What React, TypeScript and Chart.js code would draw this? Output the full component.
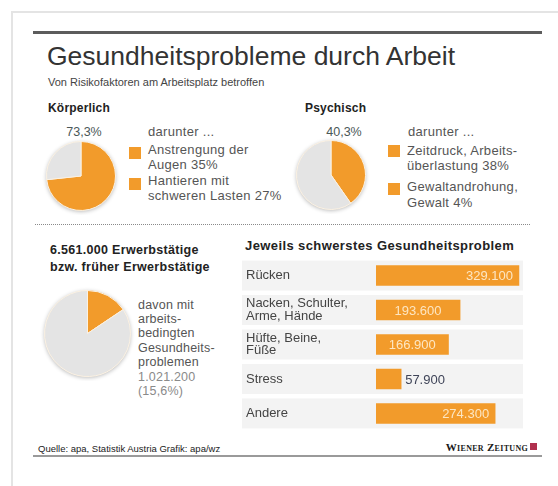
import React, { useEffect, useRef } from 'react';
import { Chart, registerables } from 'chart.js';

Chart.register(...registerables);

// ---------- data ----------
const koerperlichShares = [73.3, 26.7];
const psychischShares = [40.3, 59.7];
const erwerbsShares = [15.6, 84.4];

const barCategories = [
  ['Rücken'],
  ['Nacken, Schulter,', 'Arme, Hände'],
  ['Hüfte, Beine,', 'Füße'],
  ['Stress'],
  ['Andere'],
];
const barValues = [329100, 193600, 166900, 57900, 274300];

// ---------- styles ----------
const ORANGE = '#F29B2B';
const GRAY = '#E4E4E4';
const FONT = '"Liberation Sans", Arial, Helvetica, sans-serif';

const fmt = (n: number) => String(Math.round(n)).replace(/\B(?=(\d{3})+(?!\d))/g, '.');

function T(props: {
  x: number; y: number; size?: number; weight?: number; color?: string; ls?: number;
  align?: 'left' | 'center' | 'right'; family?: string; children: React.ReactNode;
  extra?: React.CSSProperties;
}) {
  const { x, y, size = 12, weight = 400, color = '#555', align = 'left', family = FONT, children, extra, ls = 0 } = props;
  const lh = Math.round(size * 1.2);
  const style: React.CSSProperties = {
    position: 'absolute', top: y - lh / 2, lineHeight: lh + 'px', fontSize: size,
    fontWeight: weight, color, whiteSpace: 'nowrap', fontFamily: family, letterSpacing: ls, ...extra,
  };
  if (align === 'left') style.left = x;
  else if (align === 'right') style.right = 558 - x;
  else { style.left = x; style.transform = 'translateX(-50%)'; }
  return <div style={style}>{children}</div>;
}

const PAD = 4;

function Pie({ values, cx, cy, d }: { values: number[]; cx: number; cy: number; d: number }) {
  const ref = useRef<HTMLCanvasElement>(null);
  const size = d + 2 * PAD;
  useEffect(() => {
    const shadow = {
      id: 'pieShadow',
      beforeDatasetsDraw(chart: any) {
        const arc = chart.getDatasetMeta(0).data[0];
        if (!arc) return;
        const ctx = chart.ctx;
        ctx.save();
        ctx.beginPath();
        ctx.arc(arc.x, arc.y, arc.outerRadius, 0, Math.PI * 2);
        ctx.fillStyle = GRAY;
        ctx.shadowColor = 'rgba(0,0,0,0.30)';
        ctx.shadowBlur = 4;
        ctx.shadowOffsetY = 1;
        ctx.fill();
        ctx.restore();
      },
    };
    const chart = new Chart(ref.current!, {
      type: 'pie',
      data: {
        labels: ['Anteil', 'Rest'],
        datasets: [{ data: values, backgroundColor: [ORANGE, GRAY], borderColor: '#fbf1e2', borderWidth: 1 }],
      },
      options: {
        responsive: false, animation: false, devicePixelRatio: 1, events: [],
        layout: { padding: PAD },
        plugins: { legend: { display: false }, tooltip: { enabled: false } },
      },
      plugins: [shadow],
    });
    return () => chart.destroy();
  }, []);
  return (
    <canvas ref={ref} width={size} height={size}
      style={{ position: 'absolute', left: cx - size / 2, top: cy - size / 2, width: size, height: size }} />
  );
}

function Bars() {
  const ref = useRef<HTMLCanvasElement>(null);
  useEffect(() => {
    const rowBands = {
      id: 'rowBands',
      beforeDraw(chart: any) {
        const ctx = chart.ctx;
        const ys = chart.scales.y;
        ctx.save();
        ctx.fillStyle = '#f3f3f3';
        barValues.forEach((_, i) => {
          const y = ys.getPixelForValue(i);
          ctx.fillRect(2, y - 15, 281, 30);
        });
        ctx.restore();
      },
    };
    const valueLabels = {
      id: 'valueLabels',
      afterDatasetsDraw(chart: any) {
        const ctx = chart.ctx;
        const meta = chart.getDatasetMeta(0);
        ctx.save();
        ctx.font = '13px ' + FONT;
        ctx.textBaseline = 'middle';
        meta.data.forEach((el: any, i: number) => {
          const w = el.x - el.base;
          const txt = fmt(barValues[i]);
          if (w >= 110) {
            ctx.fillStyle = '#fde6c2';
            ctx.textAlign = 'right';
            ctx.fillText(txt, el.x - 6, el.y + 1);
          } else if (w >= 50) {
            ctx.fillStyle = '#fde6c2';
            ctx.textAlign = 'center';
            ctx.fillText(txt, (el.x + el.base) / 2, el.y + 1);
          } else {
            ctx.fillStyle = '#3f4458';
            ctx.textAlign = 'left';
            ctx.fillText(txt, el.x + 4, el.y + 1);
          }
        });
        ctx.restore();
      },
    };
    const chart = new Chart(ref.current!, {
      type: 'bar',
      data: {
        labels: barCategories as any,
        datasets: [{ data: barValues, backgroundColor: ORANGE, borderWidth: 0, barThickness: 20 }],
      },
      options: {
        indexAxis: 'y', responsive: false, animation: false, devicePixelRatio: 1, events: [],
        layout: { padding: { left: 6, right: 0, top: 0, bottom: 0 } },
        plugins: { legend: { display: false }, tooltip: { enabled: false } },
        scales: {
          x: { display: false, min: 0, max: 350000 },
          y: {
            grid: { display: false }, border: { display: false },
            ticks: { crossAlign: 'far', padding: 0, color: '#444', font: { family: FONT, size: 13, lineHeight: 0.97 } },
            afterFit: (s: any) => { s.width = 130; },
          },
        },
      },
      plugins: [rowBands, valueLabels],
    });
    return () => chart.destroy();
  }, []);
  return (
    <canvas ref={ref} width={288} height={185}
      style={{ position: 'absolute', left: 240, top: 252, width: 288, height: 185 }} />
  );
}

export default function App() {
  const L = 13;
  const LS = 0.3;
  return (
    <div style={{ position: 'absolute', left: 0, top: 0, width: 558, height: 486, overflow: 'hidden', background: '#fff', fontFamily: FONT }}>
      {/* frame */}
      <div style={{ position: 'absolute', left: 11, top: 11, width: 600, height: 600, border: '2px solid #e4e4e4' }} />
      {/* top rule */}
      <div style={{ position: 'absolute', left: 33, top: 31, width: 509, height: 3, background: '#5c5c5c' }} />

      <T x={47} y={56} size={26.5} color="#333">Gesundheitsprobleme durch Arbeit</T>
      <T x={48} y={82} size={11} color="#444">Von Risikofaktoren am Arbeitsplatz betroffen</T>

      {/* Körperlich */}
      <T x={48} y={108} size={12} weight={700} color="#222" ls={0.2}>Körperlich</T>
      <T x={84} y={132} size={12.5} align="center" color="#4a5858">73,3%</T>
      <Pie values={koerperlichShares} cx={81} cy={176} d={70} />
      <T x={148} y={132} size={L} ls={LS}>darunter ...</T>
      <div style={{ position: 'absolute', left: 129, top: 147, width: 12, height: 12, background: ORANGE }} />
      <T x={148} y={150} size={L} ls={LS}>Anstrengung der</T>
      <T x={148} y={165} size={L} ls={LS}>Augen 35%</T>
      <div style={{ position: 'absolute', left: 129, top: 178, width: 12, height: 12, background: ORANGE }} />
      <T x={148} y={181} size={L} ls={LS}>Hantieren mit</T>
      <T x={148} y={196} size={L} ls={LS}>schweren Lasten 27%</T>

      {/* Psychisch */}
      <T x={305} y={108} size={12} weight={700} color="#222" ls={0.2}>Psychisch</T>
      <T x={344} y={132} size={12.5} align="center" color="#4a5858">40,3%</T>
      <Pie values={psychischShares} cx={331} cy={175} d={70} />
      <T x={408} y={132} size={L} ls={LS}>darunter ...</T>
      <div style={{ position: 'absolute', left: 388, top: 145, width: 12, height: 12, background: ORANGE }} />
      <T x={407} y={151} size={L} ls={LS}>Zeitdruck, Arbeits-</T>
      <T x={407} y={166} size={L} ls={LS}>überlastung 38%</T>
      <div style={{ position: 'absolute', left: 388, top: 183, width: 12, height: 12, background: ORANGE }} />
      <T x={407} y={187} size={L} ls={LS}>Gewaltandrohung,</T>
      <T x={407} y={203} size={L} ls={LS}>Gewalt 4%</T>

      {/* dotted separator */}
      <div style={{ position: 'absolute', left: 35, top: 224, width: 495, height: 0, borderTop: '1px dotted #8a8a8a' }} />

      {/* Erwerbstätige */}
      <T x={50} y={250} size={12.5} weight={700} color="#222" ls={0.3}>6.561.000 Erwerbstätige</T>
      <T x={50} y={267} size={12.5} weight={700} color="#222" ls={0.3}>bzw. früher Erwerbstätige</T>
      <Pie values={erwerbsShares} cx={87} cy={333} d={87} />
      <T x={138} y={305} size={12.5} ls={0.2}>davon mit</T>
      <T x={138} y={319} size={12.5} ls={0.2}>arbeits-</T>
      <T x={138} y={333} size={12.5} ls={0.2}>bedingten</T>
      <T x={138} y={348} size={12.5} ls={0.2}>Gesundheits-</T>
      <T x={138} y={362} size={12.5} ls={0.2}>problemen</T>
      <T x={138} y={377} size={12.5} ls={0.2} color="#8a8a8a">1.021.200</T>
      <T x={138} y={391} size={12.5} ls={0.2} color="#8a8a8a">(15,6%)</T>

      {/* bar section */}
      <T x={245} y={246} size={13} weight={700} color="#222" ls={0.4}>Jeweils schwerstes Gesundheitsproblem</T>
      <Bars />

      {/* footer */}
      <T x={38} y={448} size={9.5} color="#222">Quelle: apa, Statistik Austria Grafik: apa/wz</T>
      <div style={{ position: 'absolute', left: 33, top: 455, width: 509, height: 2, background: '#9a9a9a' }} />
      <T x={528} y={447} size={11} weight={700} color="#1a1a1a" align="right"
        family='"Liberation Serif", "DejaVu Serif", serif' extra={{ fontVariant: 'small-caps', letterSpacing: 0.3 }}>Wiener Zeitung</T>
      <div style={{ position: 'absolute', left: 530, top: 443, width: 7, height: 7, background: '#b0304e' }} />
    </div>
  );
}
